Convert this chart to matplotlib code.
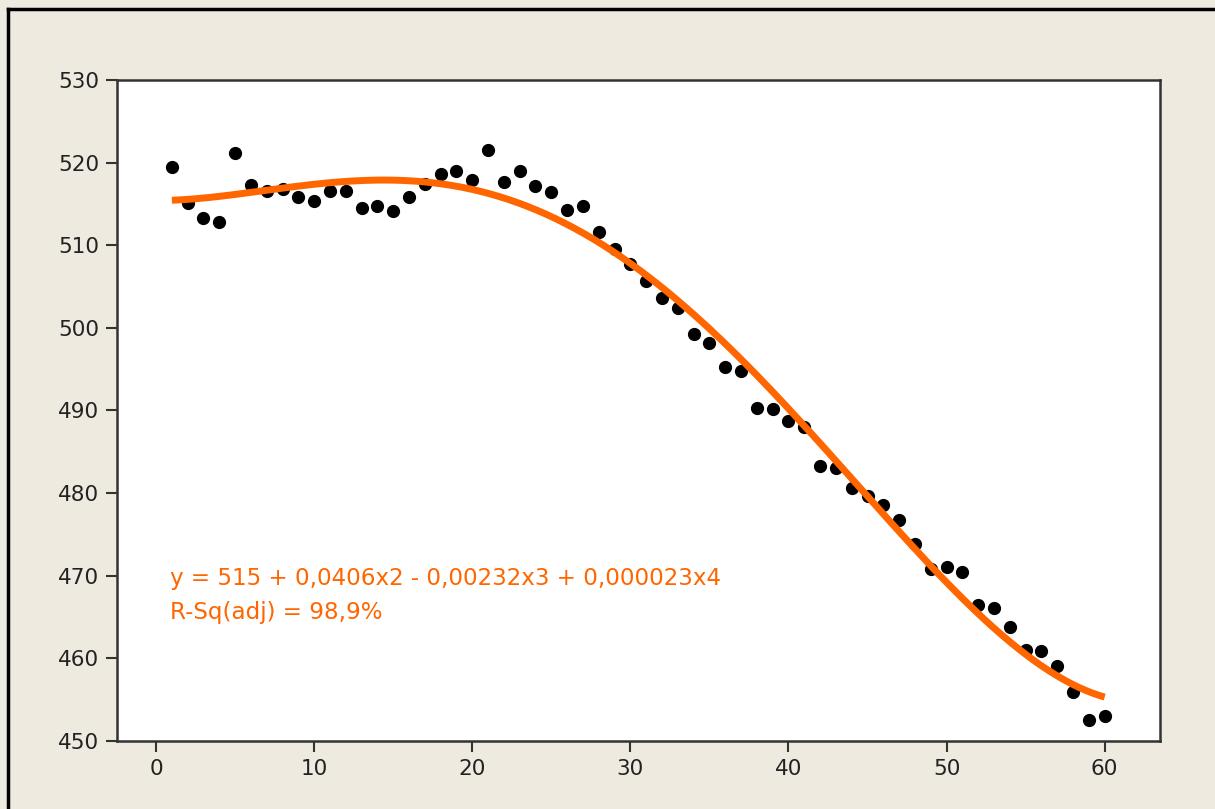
import numpy as np
import matplotlib.pyplot as plt
from matplotlib.lines import Line2D

# data
x = np.arange(1, 61)
y = [519.5, 515.1, 513.3, 512.8, 521.2, 517.3, 516.6, 516.8, 515.8, 515.4,
     516.6, 516.6, 514.5, 514.8, 514.1, 515.8, 517.4, 518.6, 519.0, 517.9,
     521.5, 517.7, 519.0, 517.2, 516.4, 514.3, 514.8, 511.6, 509.5, 507.7,
     505.7, 503.6, 502.4, 499.3, 498.2, 495.3, 494.8, 490.3, 490.2, 488.7,
     488.0, 483.3, 483.0, 480.6, 479.7, 478.6, 476.7, 473.8, 470.8, 471.1,
     470.5, 466.5, 466.1, 463.8, 461.0, 460.9, 459.1, 455.9, 452.5, 453.0]
y = np.array(y)

eq_text = "y = 515 + 0,0406x2 - 0,00232x3 + 0,000023x4"
rsq_text = "R-Sq(adj) = 98,9%"
xticks = [0, 10, 20, 30, 40, 50, 60]
yticks = [450, 460, 470, 480, 490, 500, 510, 520, 530]

# regression curve: const + x^2 + x^3 + x^4 (no linear term), fitted to the points
A = np.column_stack([np.ones_like(x, dtype=float), x**2.0, x**3.0, x**4.0])
coef, *_ = np.linalg.lstsq(A, y, rcond=None)
xf = np.linspace(1, 60, 300)
yf = coef[0] + coef[1]*xf**2 + coef[2]*xf**3 + coef[3]*xf**4

bg = "#eeeae0"
orange = "#ff6600"
W, H = 1215, 809
fig = plt.figure(figsize=(W/100, H/100), dpi=100, facecolor=bg)
ax = fig.add_axes([117/W, 1 - 741/H, (1160-117)/W, (741-80)/H])
ax.set_facecolor("white")

ax.plot(xf, yf, color=orange, lw=5, solid_capstyle="butt", zorder=3)
ax.plot(x, y, "o", color="black", ms=8.5, zorder=2)

ax.set_xlim(-2.47, 63.5)
ax.set_ylim(450, 530)
ax.set_xticks(xticks)
ax.set_yticks(yticks)
ax.tick_params(direction="out", length=8, width=1.5, color="#333333",
               labelsize=15.5, labelcolor="#222222", pad=5)
for s in ax.spines.values():
    s.set_color("#333333")
    s.set_linewidth(1.8)

ax.text(0.9, 469.7, eq_text, color=orange, fontsize=16.6, va="center")
ax.text(0.9, 465.5, rsq_text, color=orange, fontsize=16.6, va="center")

# window border at top and left
fig.add_artist(Line2D([8/W, 1], [1 - 9/H, 1 - 9/H], color="black", lw=2.5))
fig.add_artist(Line2D([8/W, 8/W], [0, 1 - 9/H], color="black", lw=2.5))

fig.savefig("out.png", dpi=100, facecolor=bg)
